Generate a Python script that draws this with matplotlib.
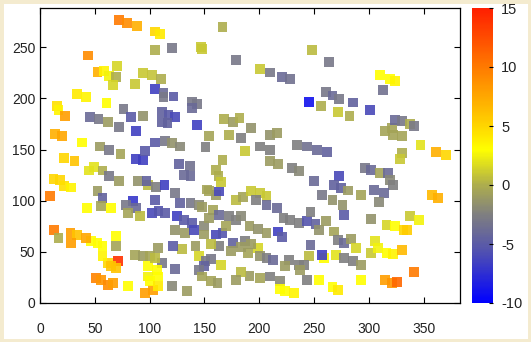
import numpy as np
import matplotlib
matplotlib.use("Agg")
import matplotlib.pyplot as plt
from matplotlib.colors import LinearSegmentedColormap
from matplotlib.patches import Rectangle

plt.rcParams["font.family"] = ["Liberation Sans", "DejaVu Sans"]
plt.rcParams["axes.unicode_minus"] = False

# ─── Data ───
xs = [71.8, 79.6, 88.8, 104.8, 109.5, 166.5, 43.8, 104.8, 120.3, 146.5, 148.0, 178.8, 248.0, 263.6,
      52.4, 58.6, 70.3, 63.2, 69.4, 66.3, 86.9, 94.0, 101.8, 110.4, 200.4, 209.8, 220.6, 228.2,
      310.0, 319.0, 323.8, 313.0, 33.9, 41.6, 60.7, 104.8, 112.6, 112.6, 121.8, 138.8, 143.4, 138.8,
      245.0, 255.9, 260.6, 266.7, 272.9, 285.3, 271.4, 282.2, 300.6, 15.4, 16.9, 23.1, 45.6, 53.3,
      61.7, 72.4, 76.2, 83.2, 87.9, 94.0, 111.0, 117.2, 123.3, 111.0, 116.3, 143.4, 168.0, 175.8,
      181.9, 192.7, 172.7, 154.2, 183.5, 151.0, 209.7, 215.8, 314.5, 320.7, 323.8, 330.0, 337.7, 340.7,
      322.2, 330.0, 330.0, 328.4, 346.9, 360.8, 370.0, 13.9, 20.0, 38.5, 21.6, 31.5, 54.9, 63.2,
      73.4, 87.9, 94.0, 95.6, 104.8, 114.0, 120.3, 127.9, 126.4, 136.6, 131.0, 137.2, 166.5, 160.3,
      162.8, 165.0, 186.6, 200.4, 209.7, 209.7, 217.4, 229.7, 235.9, 234.3, 243.6, 252.9, 261.5, 296.0,
      302.2, 310.0, 317.6, 319.1, 322.2, 272.9, 268.2, 274.4, 280.6, 249.8, 257.5, 266.7, 292.9, 304.6,
      314.0, 309.0, 302.2, 275.9, 277.5, 337.7, 345.4, 357.7, 363.3, 9.3, 12.3, 18.0, 21.6, 28.4,
      44.7, 49.3, 57.0, 63.2, 72.4, 52.4, 57.0, 55.5, 43.2, 64.8, 89.4, 98.7, 105.5, 113.5,
      97.1, 123.3, 104.8, 84.8, 78.6, 87.9, 80.2, 90.9, 101.8, 108.0, 114.0, 127.9, 137.2, 144.9,
      148.0, 157.9, 154.2, 160.3, 163.4, 152.6, 178.8, 185.0, 192.7, 200.4, 206.5, 197.3, 206.5, 215.8,
      124.9, 131.0, 138.8, 123.3, 132.6, 140.3, 149.6, 154.2, 163.4, 172.7, 178.8, 183.5, 160.3, 166.5,
      149.6, 169.6, 191.1, 198.8, 206.5, 217.4, 220.6, 222.1, 228.2, 235.9, 243.6, 251.3, 246.7, 254.4,
      260.6, 268.2, 271.4, 277.5, 283.8, 288.4, 305.3, 302.2, 308.4, 316.0, 323.8, 331.5, 334.6, 316.0,
      322.2, 330.0, 314.5, 320.7, 325.3, 340.7, 292.9, 266.7, 271.4, 259.0, 269.8, 277.5, 285.3, 292.9,
      257.5, 246.7, 245.1, 243.6, 254.4, 235.9, 240.5, 237.4, 226.7, 223.6, 219.0, 219.0, 223.6, 231.3,
      209.7, 200.4, 191.1, 183.5, 178.8, 198.8, 189.6, 200.4, 206.5, 212.7, 175.8, 174.2, 186.6, 183.5,
      192.7, 163.4, 155.7, 141.8, 129.5, 121.2, 107.9, 144.9, 151.0, 155.7, 149.6, 144.9, 165.0, 155.7,
      161.8, 148.0, 123.3, 120.3, 134.2, 111.0, 106.4, 107.9, 103.3, 95.6, 98.7, 100.2, 107.9, 98.7,
      86.3, 94.0, 100.2, 104.8, 80.2, 70.9, 61.7, 64.8, 69.4, 57.0, 50.9, 55.5, 61.7, 66.3,
      69.4, 69.4, 46.2, 52.4, 57.0, 27.8, 34.0, 41.6, 28.4, 12.9, 16.9]
ys = [277.0, 274.0, 270.5, 265.6, 263.0, 270.0, 242.0, 247.7, 249.0, 250.0, 248.5, 238.0, 247.7, 235.7,
      226.0, 226.5, 232.0, 222.0, 221.0, 213.5, 214.0, 225.0, 223.0, 219.4, 228.8, 225.5, 221.0, 219.0,
      223.0, 219.0, 217.4, 208.0, 204.0, 201.4, 195.6, 209.0, 205.0, 201.4, 202.0, 197.0, 195.0, 190.7,
      196.5, 193.0, 206.0, 203.0, 199.8, 196.0, 186.8, 182.5, 189.0, 192.3, 189.0, 183.0, 182.0, 180.0,
      176.7, 172.0, 189.7, 181.6, 168.0, 183.0, 186.4, 184.0, 181.6, 176.7, 176.0, 174.4, 180.0, 176.7,
      181.0, 171.0, 164.6, 163.0, 161.4, 152.5, 164.6, 166.2, 168.5, 171.0, 179.3, 177.6, 175.4, 172.7,
      164.6, 163.0, 146.7, 140.8, 154.8, 147.3, 145.0, 165.3, 163.6, 157.0, 141.8, 139.0, 153.0, 150.0,
      146.0, 140.8, 139.5, 148.3, 157.0, 158.7, 156.5, 153.0, 136.0, 134.3, 125.5, 124.5, 140.0, 130.4,
      124.5, 118.0, 148.3, 153.0, 149.3, 138.5, 136.0, 132.0, 128.7, 154.8, 153.0, 150.0, 147.3, 132.0,
      130.4, 127.0, 127.0, 120.6, 115.7, 123.9, 115.7, 112.4, 110.0, 119.0, 106.0, 101.0, 106.0, 110.8,
      107.6, 98.8, 82.5, 95.5, 86.4, 85.4, 81.5, 106.0, 102.6, 105.0, 121.0, 120.3, 114.7, 113.0,
      129.6, 133.0, 129.6, 123.9, 119.0, 109.2, 102.6, 94.5, 93.0, 93.0, 119.0, 115.7, 113.4, 115.7,
      119.0, 107.6, 101.0, 99.4, 96.2, 93.0, 88.0, 84.7, 88.0, 89.6, 88.0, 98.0, 98.0, 96.2,
      93.5, 91.3, 109.2, 106.0, 109.0, 111.0, 101.0, 104.0, 109.2, 107.6, 104.4, 101.0, 96.2, 93.0,
      84.7, 81.5, 78.2, 71.7, 68.5, 71.7, 75.0, 83.0, 86.4, 84.7, 81.5, 84.7, 67.0, 68.5,
      67.0, 75.0, 75.0, 72.4, 68.5, 70.0, 64.5, 83.0, 81.5, 78.2, 79.9, 77.6, 89.0, 71.7,
      79.9, 70.0, 62.0, 58.6, 62.6, 53.8, 60.3, 48.9, 53.8, 76.6, 75.0, 71.7, 71.0, 48.9,
      47.9, 51.5, 22.8, 19.6, 20.2, 30.0, 22.8, 15.6, 13.0, 44.0, 47.3, 44.0, 40.7, 37.5,
      47.3, 57.0, 45.6, 22.8, 22.8, 37.5, 37.5, 32.6, 42.4, 35.8, 21.2, 13.7, 11.4, 9.8,
      26.0, 24.5, 26.7, 30.0, 22.8, 53.8, 48.9, 45.6, 44.0, 42.4, 58.6, 50.5, 61.0, 54.6,
      57.7, 56.0, 57.7, 56.0, 52.8, 55.4, 53.8, 45.6, 40.7, 43.0, 35.8, 32.6, 37.5, 21.2,
      19.6, 26.0, 33.2, 17.0, 11.4, 39.0, 32.6, 26.0, 13.0, 9.8, 26.0, 21.2, 16.3, 35.8,
      47.3, 45.6, 45.6, 44.0, 16.3, 40.7, 39.0, 35.8, 34.2, 45.6, 24.5, 22.8, 17.9, 19.6,
      55.4, 65.2, 60.3, 58.6, 55.4, 68.1, 66.5, 63.6, 59.0, 71.7, 63.6]
vals = [10, 9, 7, 5, 4, 0, 9, 0, -3, 1, 1, -3, 0.5, -3,
        7, 3.5, 1.5, 2.5, 0, 1.5, 1, 1, 0.8, 0, 1, -3, -4, -3.5,
        3, 3, 3.5, -3.5, 4, 3.5, 3, -6.5, -4, -3, -5, -3, -3, -4,
        -9, 0, -3, -4, -3, -4.5, 1, 0, -6, 4.5, 3.5, 8, -4, -3,
        -1, -3, -3, -5, -6.5, -1.5, -4.5, -5, -6, -4.5, -4.5, -6.5, 0, -1,
        0, -1.5, 0, -0.5, -2.5, -2.5, -1.5, -1, -0.5, -0.5, -4, -3, 0, -3,
        -0.5, -0.5, 0, 1, 2, 7, 5, 7, 7.5, 3, 5, 6, -1, -3,
        -0.5, -6.5, -6.5, -5, -5, -3, -1.5, -2, -4.5, -3.5, -4, -4, 0, 0,
        0, 1, 1, -2.5, -2.5, -1, -1, -2.5, -2, -2.5, -3.5, -4, -4.5, -3,
        -4, -0.5, -4, -2, -2.5, -6, -4.5, -4.5, -1, -4, -3, -1.5, -0.5, -4,
        -4, -2, -1.5, -1.5, -5, 1, 2.5, 6.5, 7, 10, 5, 5, 4.5, 3.5,
        2, 2, 0, -3, -1, -1, -4.5, -0.5, 3, 3, -1.5, 0.5, -2.5, -6.5,
        -4.5, -3, -5, -7, -3, -4, -0.5, 0.5, -6, -5.5, -5, -4.5, -3, -2,
        -1, -0.5, -0.5, -1, -6, -0.5, 0.5, -0.5, 1, 1, 1, -2.5, -4, -4,
        -6.5, -5, -5, -1.5, -1, -6, -2, -1, -4, -2.5, -2.5, -2, -6, -5.5,
        -1, -0.5, -1, -1.5, -1, -6.5, -5, -2.5, -2.5, -2.5, -5.5, -4.5, -2.5, -1.5,
        -1, -0.5, -2.5, -4, -1, 1.5, 2, 1, 2.5, 1.5, 3, 5, 5.5, 3,
        3.5, 6.5, 8, 8.5, 11, 10, 3, 3, 4, 3, 2, -2.5, -2.5, -1,
        -6.5, -4, 0.5, -2.5, 3, -2.5, -2.5, -1, -2.5, -1, -2, 3, 3, 3.5,
        -2.5, -0.5, -1, 0.5, -1, 1.5, -0.5, -1.5, -2.5, -4, -4.5, -1, -2.5, -1,
        -1, -2.5, 0.5, -1, 0.5, -5, -1, 1.5, -3, -3, -4.5, -3, 1.5, -0.5,
        -1, -0.5, -4, -2, -1, -3, 3, 3, 8, 8, 2.5, 3, 4, 3,
        -0.5, -1, -0.5, 0.5, 3, 14, 5, 6, 6, 3.5, 9.5, 8.5, 9, 8,
        -0.5, 3, 3, 3, 3, 8, 6, 7.5, 8, 10, 0]

x_ticks = [0, 50, 100, 150, 200, 250, 300, 350]
y_ticks = [0, 50, 100, 150, 200, 250]
cb_ticks = [-10, -5, 0, 5, 10, 15]

# gnuplot-like palette: blue -> grey -> olive -> yellow -> orange -> red
pal = LinearSegmentedColormap.from_list("gp", [
    (0.00, (0.00, 0.00, 1.00)),
    (0.18, (0.33, 0.33, 0.68)),
    (0.30, (0.50, 0.50, 0.50)),
    (0.40, (0.68, 0.68, 0.30)),
    (0.52, (1.00, 1.00, 0.00)),
    (0.62, (1.00, 0.80, 0.00)),
    (0.80, (1.00, 0.48, 0.00)),
    (1.00, (1.00, 0.12, 0.00)),
])

fig = plt.figure(figsize=(5.31, 3.42), dpi=100)
fig.patch.set_facecolor("white")
fig.patches.append(Rectangle((0, 0), 1, 1, transform=fig.transFigure, fill=False,
                             edgecolor="#f4ebcf", linewidth=5, zorder=0))

ax = fig.add_axes([40 / 531, 39 / 342, 420 / 531, 295 / 342])
sc = ax.scatter(xs, ys, c=vals, cmap=pal, vmin=-10, vmax=15, marker="s", s=50,
                linewidths=0, alpha=0.9)
ax.set_xlim(0, 383)
ax.set_ylim(0, 288.5)
ax.set_xticks(x_ticks)
ax.set_yticks(y_ticks)
ax.tick_params(direction="in", length=4, width=0.8, top=True, right=True, labelsize=10,
               labelcolor="#222222")
ax.tick_params(axis="x", pad=14)
for s in ax.spines.values():
    s.set_linewidth(0.9)

cax = fig.add_axes([472 / 531, 39 / 342, 21 / 531, 295 / 342])
cb = fig.colorbar(sc, cax=cax, ticks=cb_ticks)
cb.solids.set_alpha(1)
cb.outline.set_visible(False)
cax.tick_params(direction="in", length=3, width=0.8, labelsize=10.5, labelcolor="#222222", pad=6)

plt.savefig("out.png", dpi=100)
plt.close()
